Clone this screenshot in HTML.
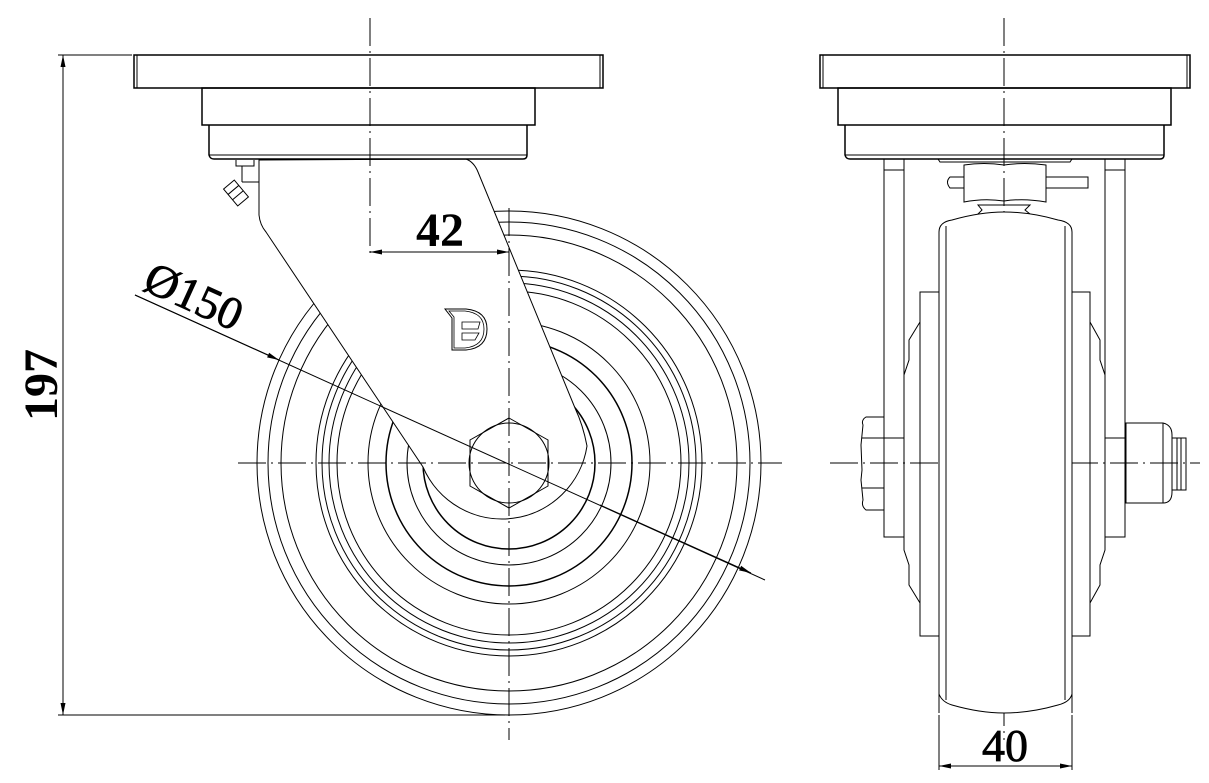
<!DOCTYPE html>
<html><head><meta charset="utf-8"><style>
html,body{margin:0;padding:0;background:#fff;}
svg{display:block;}
text{font-family:"Liberation Serif",serif;fill:#000;}
</style></head><body>
<svg width="1209" height="783" viewBox="0 0 1209 783" xmlns="http://www.w3.org/2000/svg">
<defs>
<marker id="ar" viewBox="0 0 12 6" refX="12" refY="3" markerWidth="12" markerHeight="6" orient="auto-start-reverse" markerUnits="userSpaceOnUse"><path d="M0,0.5 L12,3 L0,5.5z" fill="#000"/></marker>
</defs>
<g fill="none" stroke="#000" stroke-width="1">
<g stroke-width="1">
<circle cx="509" cy="463" r="252"/>
<circle cx="509" cy="463" r="241"/>
<circle cx="509" cy="463" r="228"/>
<circle cx="509" cy="463" r="193"/>
<circle cx="509" cy="463" r="187"/>
<circle cx="509" cy="463" r="180"/>
<circle cx="509" cy="463" r="172"/>
<circle cx="509" cy="463" r="141"/>
<circle cx="509" cy="463" r="123" stroke-width="1.5"/>
<circle cx="509" cy="463" r="102"/>
<circle cx="509" cy="463" r="86" stroke-width="1.5"/>
</g>
<path d="M259,160 L259,215 Q260,225 266,232 L423,467 A86,86 0 0 0 587,446 Q583,425 575,408 L478,172 Q474,162 466,159 Z" fill="#fff"/>
<polygon points="509,418 548,440 548,486 509,508 470,486 470,440" fill="#fff"/>
<circle cx="509" cy="463" r="40"/>
<path d="M445,309 L466,309 Q487,311 487,329 Q487,348 466,350 L452,350 L452,318 Z" stroke-width="1"/>
<path d="M449,311 L465,311 Q484,313 484,329 Q484,346 465,348 L454,348 L454,317 Z" stroke-width="0.8"/>
<path d="M462,322 L480,322 L478,329 L462,329 Z M462,333 L479,333 L475,340 L462,340 Z" stroke-width="0.8"/>
<rect x="134" y="55" width="469" height="33" stroke-width="1.5"/>
<line x1="137" y1="55" x2="137" y2="88"/><line x1="600" y1="55" x2="600" y2="88"/>
<rect x="202" y="88" width="333" height="37" stroke-width="1.5"/>
<path d="M209,125 L209,155 Q210,159 214,159 L523,159 Q527,159 527,155 L527,125" stroke-width="1.5"/>
<line x1="209" y1="155" x2="527" y2="155"/>
<path d="M236,160 L236,166 L254,166 L254,160"/>
<line x1="242" y1="166" x2="242" y2="182"/>
<line x1="242" y1="182" x2="259" y2="182"/>
<g transform="translate(236,193) rotate(-40)"><rect x="-7" y="-11" width="14" height="22" fill="#fff"/><line x1="-7" y1="-4" x2="7" y2="-4"/><line x1="-7" y1="3" x2="7" y2="3"/></g>
<g stroke-dasharray="28,5,2,5" stroke-width="1">
<line x1="509" y1="208" x2="509" y2="740"/>
<line x1="238" y1="463" x2="782" y2="463"/>
<line x1="370" y1="18" x2="370" y2="258"/>
<line x1="1004" y1="18" x2="1004" y2="740"/>
<line x1="830" y1="463" x2="1200" y2="463"/>
</g>
<line x1="370" y1="252" x2="509" y2="252" marker-start="url(#ar)" marker-end="url(#ar)"/>
<line x1="135" y1="295" x2="765" y2="580"/>
<line x1="135" y1="295" x2="279" y2="360" marker-end="url(#ar)"/>
<line x1="600" y1="505" x2="751" y2="573" marker-end="url(#ar)"/>
<line x1="58" y1="55" x2="132" y2="55"/>
<line x1="58" y1="715" x2="505" y2="715"/>
<line x1="63" y1="55" x2="63" y2="715" marker-start="url(#ar)" marker-end="url(#ar)"/>
<rect x="820" y="55" width="370" height="33" stroke-width="1.5"/>
<line x1="823" y1="55" x2="823" y2="88"/><line x1="1187" y1="55" x2="1187" y2="88"/>
<rect x="838" y="88" width="333" height="37" stroke-width="1.5"/>
<path d="M845,125 L845,155 Q846,159 850,159 L1160,159 Q1164,159 1164,155 L1164,125" stroke-width="1.5"/>
<line x1="845" y1="155" x2="1164" y2="155"/>
<rect x="884" y="159" width="20" height="378"/>
<line x1="884" y1="170" x2="904" y2="170"/>
<rect x="1105" y="159" width="20" height="378"/>
<line x1="1105" y1="170" x2="1125" y2="170"/>
<path d="M938,159 L940,162 L1070,162 L1072,159"/>
<path d="M950,177 L964,177 L964,188 L950,188 Q945,182 950,177Z"/>
<rect x="1046" y="177" width="42" height="11"/>
<path d="M964,165 Q984,162 1004,165 Q1024,162 1046,165 L1046,202 Q1024,198 1004,201 Q984,198 964,202 Z"/>
<path d="M978,205 L1030,205 L1025,210 L1030,214 L978,214 L982,210Z"/>
<rect x="920" y="292" width="19" height="344"/>
<rect x="1072" y="292" width="18" height="344"/>
<path d="M920,322 L909,340 L909,360 L904,375 L904,550 L909,565 L909,585 L920,603"/>
<path d="M1090,322 L1100,340 L1100,360 L1105,375 L1105,550 L1100,565 L1100,585 L1090,603"/>
<path d="M939,713 L939,232 Q939,222 952,220 Q980,212 1004,212 Q1030,212 1058,220 Q1072,222 1072,232 L1072,713" fill="#fff"/>
<path d="M939,694 Q942,702 952,705 Q980,713 1004,713 Q1030,713 1058,705 Q1070,702 1072,694"/>
<line x1="946" y1="226" x2="946" y2="700"/>
<line x1="1065" y1="226" x2="1065" y2="700"/>
<path d="M866,417 L884,417 L884,510 L866,510 Q861,506 863,500 L861,480 L862,470 L861,445 L863,425 Q861,420 866,417Z"/>
<line x1="862" y1="438" x2="884" y2="438"/><line x1="862" y1="488" x2="884" y2="488"/>
<line x1="884" y1="438" x2="904" y2="438"/><line x1="884" y1="537" x2="904" y2="537"/>
<path d="M1126,423 L1163,423 Q1172,425 1172,435 L1172,492 Q1172,503 1163,503 L1126,503 Z"/>
<line x1="1163" y1="423" x2="1163" y2="503"/>
<line x1="1105" y1="438" x2="1126" y2="438"/>
<path d="M1172,438 L1186,438 L1186,490 L1172,490 M1177,438 L1177,490 M1181,438 L1181,490"/>
<line x1="939" y1="715" x2="939" y2="770"/>
<line x1="1072" y1="715" x2="1072" y2="770"/>
<line x1="939" y1="766" x2="1072" y2="766" marker-start="url(#ar)" marker-end="url(#ar)"/>
</g>
<text x="440" y="246" font-size="48" font-weight="bold" text-anchor="middle">42</text>
<text x="1005" y="761" font-size="46" text-anchor="middle" stroke="#000" stroke-width="0.8">40</text>
<text transform="translate(57,385) rotate(-90)" font-size="48" font-weight="bold" text-anchor="middle">197</text>
<text transform="translate(141,289) rotate(24.5)" font-size="46" stroke="#000" stroke-width="0.8">Ø150</text>
</svg>
</body></html>
